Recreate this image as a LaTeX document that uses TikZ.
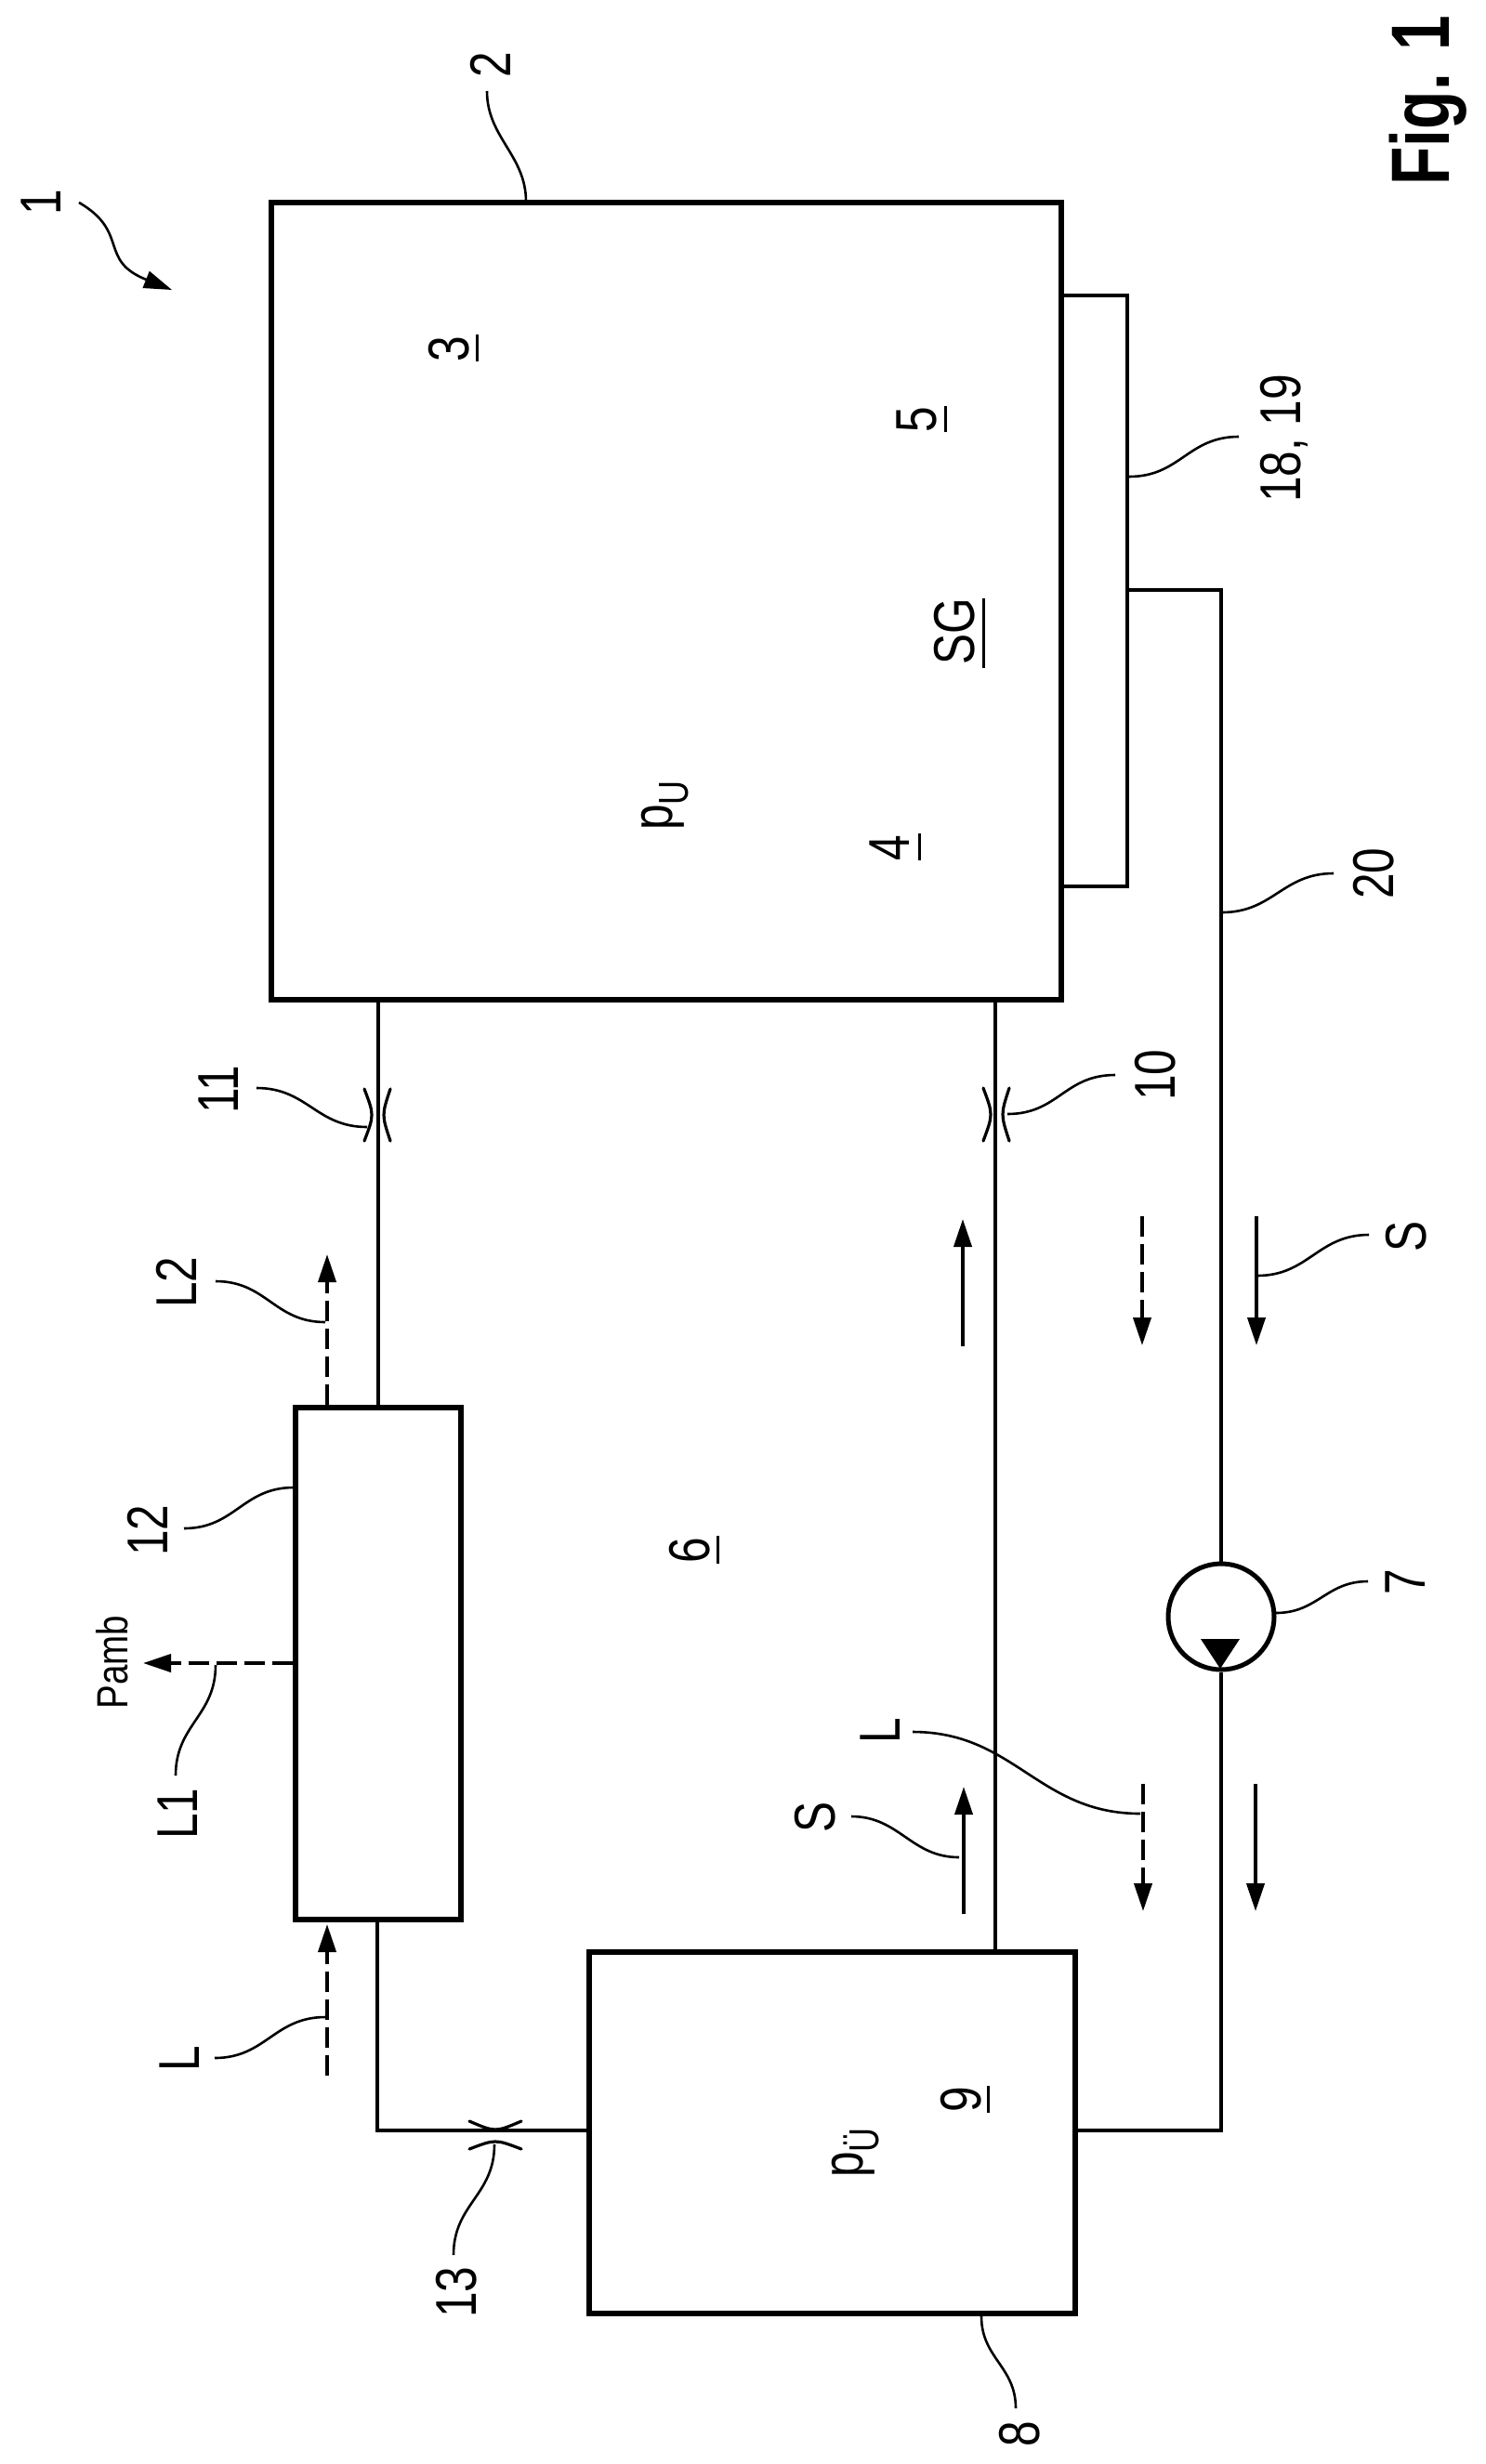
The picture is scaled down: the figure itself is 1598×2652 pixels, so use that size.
\documentclass[tikz,border=0pt]{standalone}
\usepackage{fontspec}
\usepackage{graphicx}
\setmainfont{Liberation Sans}
\usetikzlibrary{arrows.meta}
\newcommand{\lb}[1]{\scalebox{.8}[1]{#1}}
\tikzset{
  boxa/.style={draw=black,line width=6pt,inner sep=0pt,fill=none},
  boxb/.style={draw=black,line width=3.5pt,inner sep=0pt,fill=none},
  pumpc/.style={circle,draw=black,line width=5pt,inner sep=0pt,minimum size=114pt},
  pipe/.style={draw=black,line width=4pt},
  lead/.style={draw=black,line width=2.6pt},
  restr/.style={draw=black,line width=3.2pt,line cap=round},
  ul/.style={draw=black,line width=3pt},
  lab/.style={rotate=90,anchor=base,inner sep=0pt,font=\fontsize{62}{62}\selectfont},
  flow/.style={draw=black,line width=4pt,-{Triangle[length=30pt,width=19pt]}},
  flowd/.style={flow,dash pattern=on 22pt off 8pt}
}
\begin{document}
\begin{tikzpicture}[x=1pt,y=-1pt]
\useasboundingbox[fill=white] (0,0) rectangle (1598,2652);
% boxes
\node[boxa,minimum width=850pt,minimum height=858pt] (b2) at (717,647) {};
\node[boxa,minimum width=178pt,minimum height=551pt] (b12) at (407,1790.5) {};
\node[boxa,minimum width=523pt,minimum height=389pt] (b8) at (895.5,2295) {};
\node[pumpc] (pump) at (1314,1740) {};
% named routing coordinates
\coordinate (r18a) at (1142,318); \coordinate (r18b) at (1213,954);
\coordinate (x11) at (407,0); \coordinate (x10) at (1071,0);
\coordinate (x13) at (406,0); \coordinate (y13) at (0,2293);
\coordinate (y20) at (0,635);
% control unit
\path[boxb,draw] (b2.east |- r18a) -| (r18b) -- (b2.east |- r18b);
% pipes
\draw[pipe] (b2.south -| x11) -- (b12.north -| x11);
\draw[pipe] (b2.south -| x10) -- (b8.north -| x10);
\draw[pipe] (b12.south -| x13) |- (b8.west |- y13);
\draw[pipe] (r18b |- y20) -| (pump.north);
\draw[pipe] (pump.south) |- (b8.east |- y13);
\fill[black] (1292,1764) -- (1334,1764) -- (1313,1796) -- cycle;
% restrictors
\draw[restr] (392,1172) .. controls (402.7,1200) .. (392,1228);
\draw[restr] (420,1172) .. controls (410.7,1200) .. (420,1228);
\draw[restr] (1058,1171) .. controls (1068.7,1199.5) .. (1058,1228);
\draw[restr] (1086,1171) .. controls (1076.7,1199.5) .. (1086,1228);
\draw[restr] (505,2283) .. controls (533,2295) .. (561,2283);
\draw[restr] (505,2313) .. controls (533,2302.3) .. (561,2313);
% flow arrows
\coordinate (fl2) at (352,1350);
\draw[flowd] (b12.north -| fl2) -- (fl2);
\coordinate (fl1) at (154,1790);
\draw[flowd] (b12.west |- fl1) -- (fl1);
\coordinate (fla) at (352,2234); \coordinate (flb) at (352,2071);
\draw[flowd] (fla) -- (flb);
\coordinate (s1a) at (1036,1449); \coordinate (s1b) at (1036,1312);
\draw[flow] (s1a) -- (s1b);
\coordinate (s2a) at (1037,2060); \coordinate (s2b) at (1037,1923);
\draw[flow] (s2a) -- (s2b);
\coordinate (d1a) at (1229,1309); \coordinate (d1b) at (1229,1448);
\draw[flowd] (d1a) -- (d1b);
\coordinate (d2a) at (1230,1920); \coordinate (d2b) at (1230,2057);
\draw[flowd] (d2a) -- (d2b);
\coordinate (s3a) at (1352,1309); \coordinate (s3b) at (1352,1448);
\draw[flow] (s3a) -- (s3b);
\coordinate (s4a) at (1351,1920); \coordinate (s4b) at (1351,2057);
\draw[flow] (s4a) -- (s4b);
% labels
\node[lab] (t1) at (65,218) {\lb{1}};
\node[lab] (t2) at (549,70) {\lb{2}};
\node[lab] (t3) at (504,376) {\lb{3}};
\node[lab] (t4) at (978,913) {\lb{4}};
\node[lab] (t5) at (1007,452) {\lb{5}};
\node[lab] (t6) at (763,1669) {\lb{6}};
\node[lab] (t7) at (1533,1703) {\lb{7}};
\node[lab] (t8) at (1118,2620) {\lb{8}};
\node[lab] (t9) at (1055,2260) {\lb{9}};
\node[lab] (t10) at (1264,1157) {\lb{10}};
\node[lab] (t11) at (256,1173) {\lb{11}};
\node[lab] (t12) at (180,1647) {\lb{12}};
\node[lab] (t13) at (512,2467) {\lb{13}};
\node[lab] (t1819) at (1399,472) {\lb{18, 19}};
\node[lab] (t20) at (1499,940) {\lb{20}};
\node[lab] (tsg) at (1048,680) {\lb{SG}};
\node[lab] (tl) at (214,2216) {\lb{L}};
\node[lab] (tl1) at (212,1952) {\lb{L1}};
\node[lab] (tl2) at (211,1380) {\lb{L2}};
\node[lab] (tll) at (968,1863) {\lb{L}};
\node[lab] (ts1) at (898,1956) {\lb{S}};
\node[lab] (ts2) at (1534,1331) {\lb{S}};
\node[lab,font=\fontsize{47}{47}\selectfont] (tamb) at (137,1789) {\scalebox{.82}[1]{Pamb}};
\node[lab] (tpu) at (723,867) {\lb{p\raisebox{-17pt}{\fontsize{45}{45}\selectfont U}}};
\node[lab] (tpue) at (928,2317) {\lb{p\raisebox{-17pt}{\fontsize{45}{45}\selectfont Ü}}};
\node[lab,font=\fontsize{89}{89}\bfseries\selectfont,anchor=base] (tfig) at (1559,108) {\scalebox{.76}[1]{Fig. 1}};
% underlines
\draw[ul] (513,360) -- (513,389);
\draw[ul] (989,897) -- (989,926);
\draw[ul] (1017,437) -- (1017,465);
\draw[ul] (772,1653) -- (772,1683);
\draw[ul] (1063,2245) -- (1063,2274);
\draw[ul] (1058,644) -- (1058,719);
% leaders
\draw[lead,-{Triangle[length=30pt,width=19pt]}] (85,218) .. controls (140,250) and (105,280) .. (185,312);
\draw[lead] (524,98) .. controls +(0,50) and +(0,-50) .. (566,217);
\draw[lead] (232,1379) .. controls +(55,0) and +(-55,0) .. (350,1423);
\draw[lead] (276,1171) .. controls +(55,0) and +(-55,0) .. (395,1213);
\draw[lead] (1200,1157) .. controls +(-55,0) and +(55,0) .. (1084,1199);
\draw[lead] (1473,1329) .. controls +(-55,0) and +(55,0) .. (1353,1373);
\draw[lead] (1472,1702) .. controls +(-45,0) and +(45,0) .. (1373,1736);
\draw[lead] (982,1864) .. controls +(110,0) and +(-110,0) .. (1227,1952);
\draw[lead] (916,1955) .. controls +(52,0) and +(-52,0) .. (1032,1999);
\draw[lead] (232,1792) .. controls +(0,55) and +(0,-55) .. (189,1911);
\draw[lead] (198,1645) .. controls +(55,0) and +(-55,0) .. (316,1601);
\draw[lead] (231,2215) .. controls +(55,0) and +(-55,0) .. (350,2171);
\draw[lead] (532,2308) .. controls +(0,55) and +(0,-55) .. (488,2427);
\draw[lead] (1056,2493) .. controls +(0,45) and +(0,-45) .. (1093,2592);
\draw[lead] (1333,470) .. controls +(-55,0) and +(55,0) .. (1215,513);
\draw[lead] (1435,940) .. controls +(-55,0) and +(55,0) .. (1315,982);
\end{tikzpicture}
\end{document}
